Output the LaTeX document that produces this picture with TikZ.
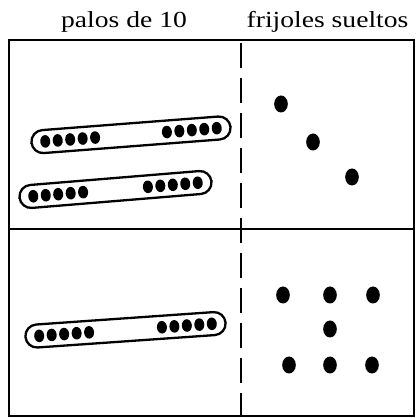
\documentclass[tikz,border=0pt]{standalone}
\usepackage{fontspec}
\setmainfont{Liberation Serif}
\newfontfamily\titlefont[FakeStretch=1.2]{Liberation Serif}
\usepackage{tikz}

% one stick of ten beans: centre x, centre y, angle, length
\newcommand{\palo}[4]{%
  \begin{scope}[shift={(#1,#2)}, rotate=#3]
    \draw[palobox] ({-#4/2},-11.5) rectangle ({#4/2},11.5);
    \foreach \k in {0,...,4}{
      \fill[frijolito] ({-#4/2+13.8+12.5*\k},0) ellipse (5pt and 6.3pt);
      \fill[frijolito] ({#4/2-13.8-12.5*\k},0) ellipse (5pt and 6.3pt);
    }
  \end{scope}}

\begin{document}
\begin{tikzpicture}[x=1pt, y=1pt,
      titulo/.style={font=\titlefont\fontsize{23}{27}\selectfont, anchor=base, inner sep=0pt},
      marco/.style={line width=2pt},
      palobox/.style={line width=2.3pt, rounded corners=11.5pt},
      frijolito/.style={fill=black},
      frijol/.style={fill=black},
   ]
   \useasboundingbox (0,0) rectangle (416,418);

   % Column headers
   \node[titulo] (tpalos) at (124,390) {palos de 10};
   \node[titulo] (tsueltos) at (327.5,390) {frijoles sueltos};

   % Frame, middle rule and dashed divider
   \draw[marco] (9,2) rectangle (414,378);
   \draw[marco] (9,189) -- (414,189);
   \draw[marco, dash pattern=on 25pt off 10pt, dash phase=32pt] (241,378) -- (241,2);

   % Top panel: two sticks
   \palo{131}{283.2}{4.4}{199.6}
   \palo{115.5}{228.5}{4.7}{192.6}

   % Bottom panel: one stick
   \palo{125.5}{88.2}{4}{200.6}

   % Loose beans
   \foreach \x/\y in {281/314, 313/276, 352/241,
                      283/123, 330/123, 373/123,
                      330/89,
                      289/53, 330/53, 372/53}{
      \fill[frijol] (\x,\y) ellipse (6.8pt and 8.5pt);
   }
\end{tikzpicture}
\end{document}
